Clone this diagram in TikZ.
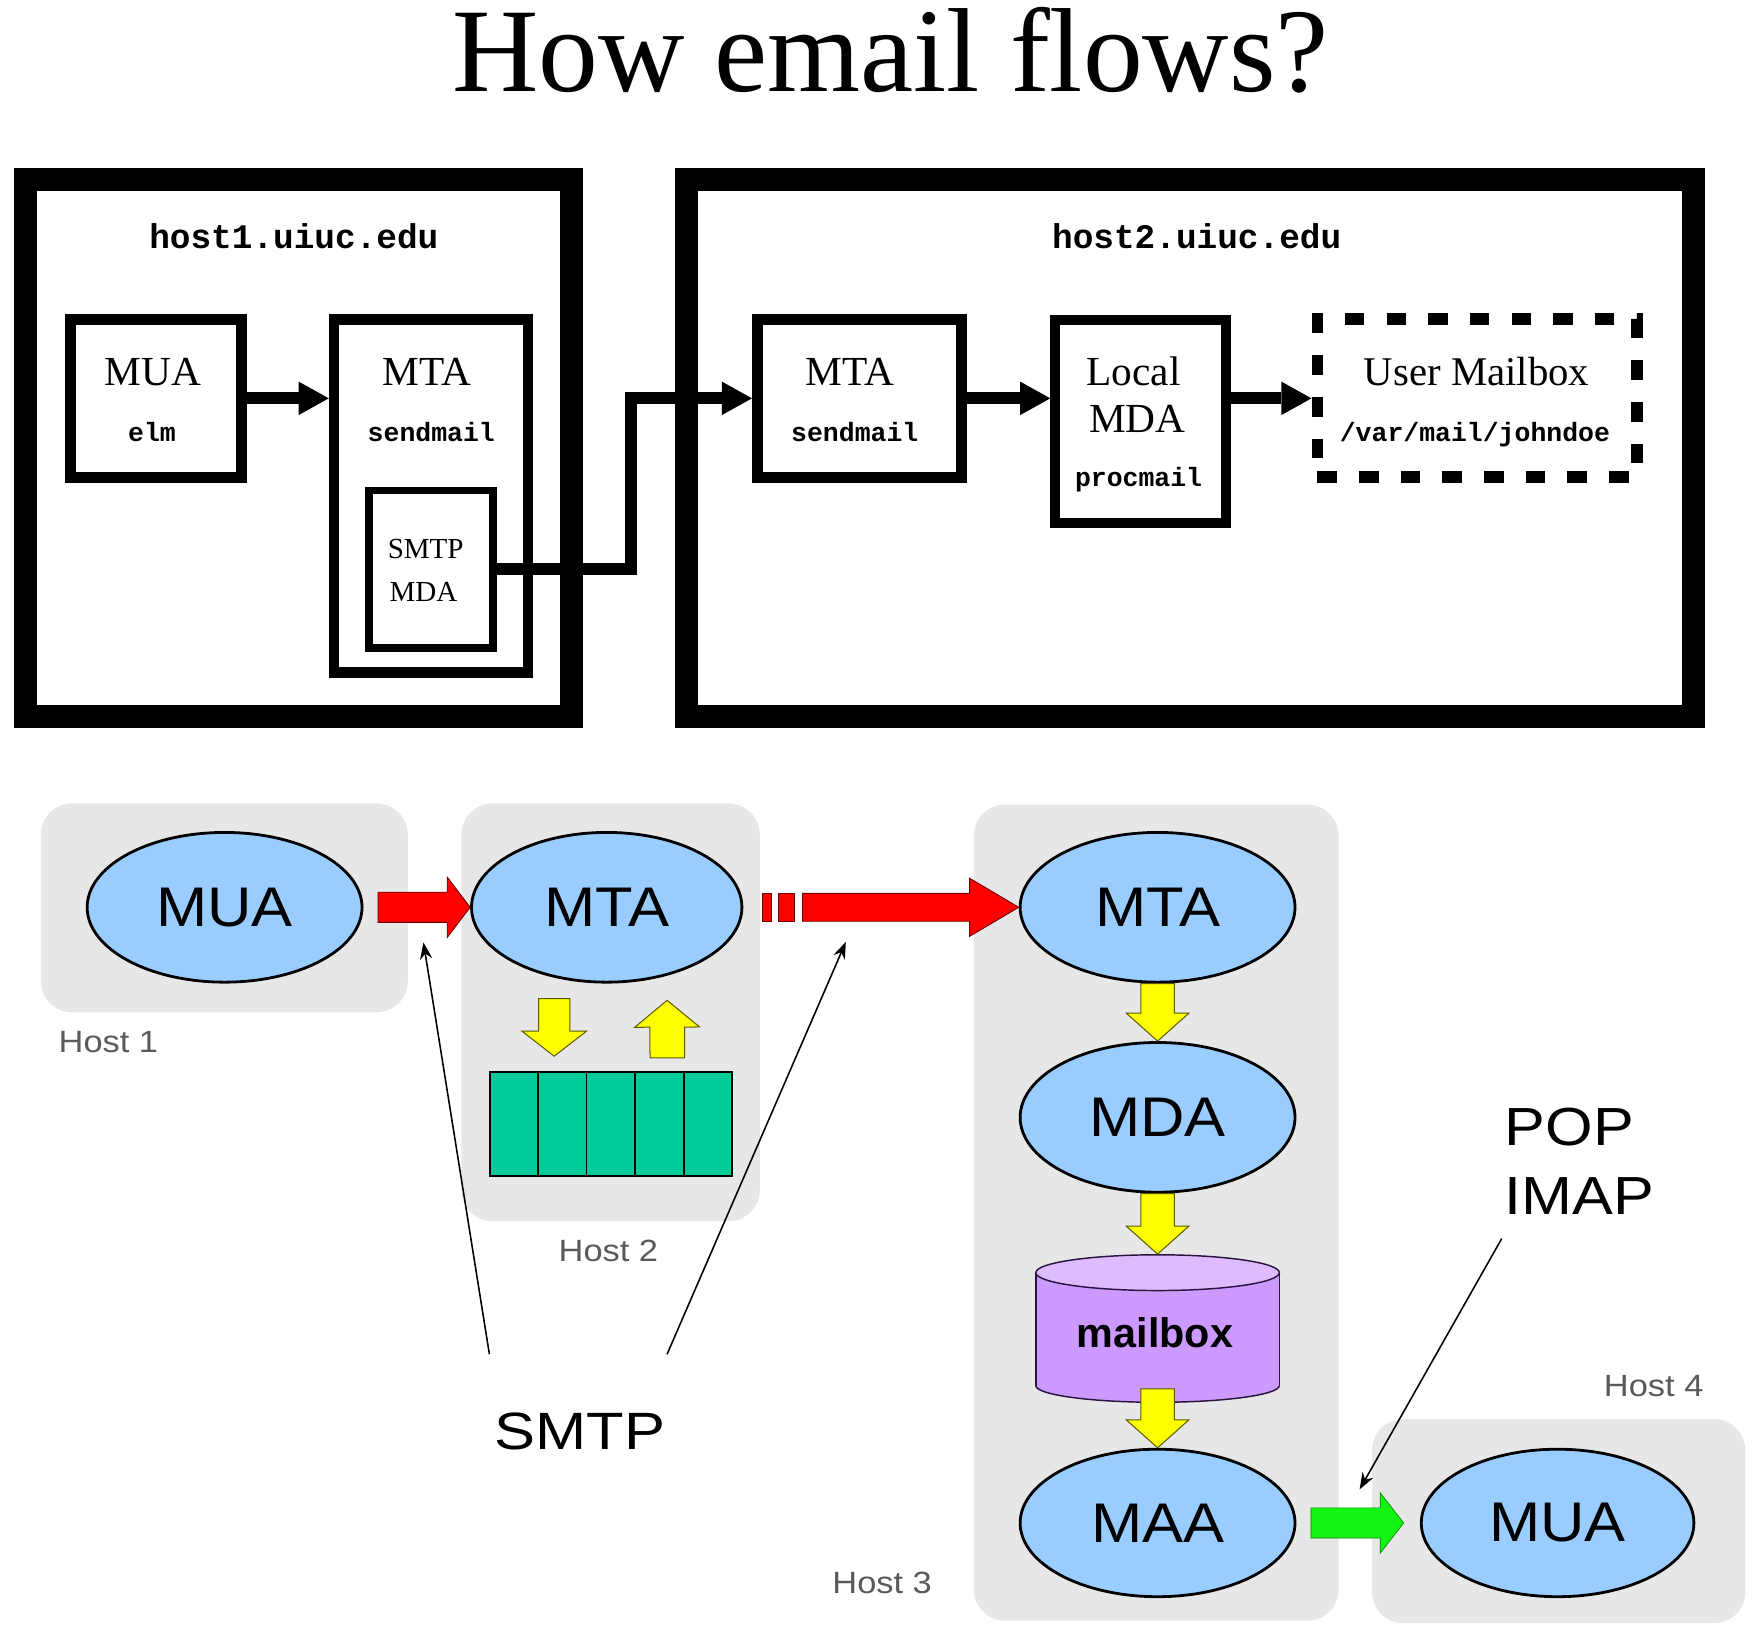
\documentclass[tikz,border=0pt]{standalone}
\usepackage{fontspec}
\setmainfont{Liberation Serif}
\setsansfont{Liberation Sans}
\setmonofont{Liberation Mono}
\usepackage{graphicx}
\usetikzlibrary{calc,arrows.meta,shapes.geometric}
\definecolor{ellblue}{RGB}{153,204,255}
\definecolor{hostgray}{RGB}{231,231,231}
\definecolor{qgreen}{RGB}{0,204,153}
\definecolor{mbody}{RGB}{204,153,255}
\definecolor{mtop}{RGB}{222,186,255}
\definecolor{labgray}{RGB}{90,90,90}
\definecolor{arrred}{RGB}{255,0,0}
\definecolor{arrgreen}{RGB}{20,245,20}
\definecolor{arryellow}{RGB}{255,255,0}
\definecolor{redline}{RGB}{110,0,0}
\definecolor{yelline}{RGB}{90,90,0}
\definecolor{grnline}{RGB}{0,140,0}
\definecolor{cylline}{RGB}{40,20,60}
\newcommand{\fs}[1]{\fontsize{#1}{#1}\selectfont}
\newcommand{\mystretch}[2]{\scalebox{#1}[1]{#2}}
% block arrow: style, start, tip, half shaft, half head, head length
\newcommand{\barrow}[6]{%
  \coordinate (ba-a) at (#2);
  \coordinate (ba-b) at (#3);
  \coordinate (ba-c) at ($(ba-b)!#6!(ba-a)$);
  \draw[#1] ($(ba-a)!#4!90:(ba-b)$) -- ($(ba-c)!#4!90:(ba-b)$) -- ($(ba-c)!#5!90:(ba-b)$) -- (ba-b) -- ($(ba-c)!#5!-90:(ba-b)$) -- ($(ba-c)!#4!-90:(ba-b)$) -- ($(ba-a)!#4!-90:(ba-b)$) -- cycle;
}
\tikzset{
  hostbox/.style={draw, line width=20.5pt, inner sep=0pt},
  cbox/.style={draw, line width=10pt, inner sep=0pt},
  conn/.style={line width=10.5pt, -{Triangle[length=27pt,width=30pt,line width=0pt]}},
  serif/.style={inner sep=0pt, anchor=base, font=\fs{37}},
  mono/.style={inner sep=0pt, anchor=base, font=\ttfamily\bfseries\fs{23.7}},
  hostarea/.style={fill=hostgray, rounded corners=28pt, inner sep=0pt},
  ell/.style={ellipse, draw, fill=ellblue, line width=2.5pt, inner sep=0pt, minimum width=246pt, minimum height=134pt, font=\sffamily\fs{50}},
  hostlbl/.style={inner sep=0pt, anchor=base, text=labgray, font=\sffamily\fs{27.5}},
  big/.style={inner sep=0pt, anchor=base, font=\sffamily\fs{47}},
  redarr/.style={fill=arrred, draw=redline, line width=0.8pt},
  yelarr/.style={fill=arryellow, draw=yelline, line width=0.9pt},
  grnarr/.style={fill=arrgreen, draw=grnline, line width=0.6pt},
  note/.style={line width=1.4pt, -{Stealth[length=15pt,width=11pt]}},
  cylpart/.style={draw=cylline, line width=1.3pt, inner sep=0pt},
}
\begin{document}
\begin{tikzpicture}[x=1pt,y=-1pt]
\useasboundingbox (0,0) rectangle (1568,1464);
\fill[white] (0,0) rectangle (1568,1464);

% title
\node[inner sep=0pt, anchor=base, font=\fs{107}] (title) at (797,82) {How email flows?};

% ---------- top diagram ----------
\node[hostbox, minimum width=489pt, minimum height=480.5pt] (host1) at (267,400.75) {};
\node[hostbox, minimum width=901pt, minimum height=480.5pt] (host2) at (1065,400.75) {};
\node[mono, font=\ttfamily\bfseries\fs{30.8}] (h1name) at (263,222.5) {host1.uiuc.edu};
\node[mono, font=\ttfamily\bfseries\fs{30.8}] (h2name) at (1071,222.5) {host2.uiuc.edu};

\node[cbox, minimum width=153pt, minimum height=141pt] (muabox) at (139.5,356.5) {};
\node[serif] (muat) at (137,344.6) {MUA};
\node[mono] (elmt) at (136,395) {elm};

\node[cbox, line width=9.5pt, minimum width=173.5pt, minimum height=316pt] (mta1box) at (385.75,444) {};
\node[serif] (mta1t) at (382,344.6) {MTA};
\node[mono] (sm1t) at (386,395) {sendmail};

\node[cbox, line width=7pt, minimum width=111pt, minimum height=141pt] (smtpbox) at (386,509.5) {};
\node[serif, font=\fs{26}] (smtpt) at (381,499.5) {SMTP};
\node[serif, font=\fs{26}] (mdat) at (379,538) {MDA};

\node[cbox, minimum width=182.5pt, minimum height=141pt] (mta2box) at (769.25,356.5) {};
\node[serif] (mta2t) at (760.5,344.6) {MTA};
\node[mono] (sm2t) at (765,395) {sendmail};

\node[cbox, line width=9pt, minimum width=153pt, minimum height=182pt] (lmdabox) at (1021,377) {};
\node[serif] (localt) at (1014.5,344.6) {Local};
\node[serif] (lmdat) at (1018,386.7) {MDA};
\node[mono] (procmt) at (1019,435.6) {procmail};

\node[draw, line width=10.5pt, dash pattern=on 17.5pt off 19.8pt, inner sep=0pt, minimum width=286pt, minimum height=141.5pt] (ubox) at (1322,356.25) {};
\node[serif, font=\fs{36.5}] (ubt) at (1321.5,344.6) {User Mailbox};
\node[mono] (patht) at (1320,395.3) {/var/mail/johndoe};

\draw[conn] (muabox.east) -- (muabox.east -| mta1box.west);
\coordinate (jog) at (565,509.5);
\draw[conn] (smtpbox.east) -- (jog) |- (mta2box.west);
\draw[conn] (mta2box.east) -- (mta2box.east -| lmdabox.west);
\draw[conn] (mta2box.east -| lmdabox.east) -- (mta2box.east -| ubox.west);

% ---------- bottom diagram ----------
\node[hostarea, minimum width=328.5pt, minimum height=187pt] (area1) at (200.75,812.5) {};
\node[hostarea, minimum width=267pt, minimum height=374pt] (area2) at (546.5,906) {};
\node[hostarea, minimum width=326.5pt, minimum height=730.5pt] (area3) at (1034.75,1085.25) {};
\node[hostarea, minimum width=334pt, minimum height=182.7pt] (area4) at (1395,1361.35) {};

\node[hostlbl] (h1l) at (97,941.6) {\mystretch{1.12}{Host 1}};
\node[hostlbl] (h2l) at (544.5,1128.6) {\mystretch{1.12}{Host 2}};
\node[hostlbl] (h3l) at (789.5,1426) {\mystretch{1.12}{Host 3}};
\node[hostlbl] (h4l) at (1480,1250) {\mystretch{1.12}{Host 4}};

% queue
\node[draw, line width=1.5pt, fill=qgreen, minimum width=216.5pt, minimum height=93pt, inner sep=0pt] (queue) at (546.75,1006) {};
\foreach \k in {1,...,4}
  \draw[line width=1.5pt] ($(queue.north west)!\k/5!(queue.north east)$) -- ($(queue.south west)!\k/5!(queue.south east)$);

% mailbox cylinder
\node[cylpart, ellipse, fill=mbody, minimum width=218pt, minimum height=30pt] (cylbot) at (1036,1240) {};
\node[fill=mbody, minimum width=218pt, minimum height=101pt, inner sep=0pt, outer sep=0pt] (cylbody) at (1036,1189.5) {};
\draw[draw=cylline, line width=1.3pt] (cylbody.north west) -- (cylbody.south west) (cylbody.north east) -- (cylbody.south east);
\node[cylpart, ellipse, fill=mtop, minimum width=218pt, minimum height=32pt] (cyltop) at (1036,1139) {};
\node[inner sep=0pt, anchor=base, font=\sffamily\bfseries\fs{37}] (mboxt) at (1033.6,1206) {mailbox};

% ellipses
\node[ell] (muaA) at (201,812) {\mystretch{1.1}{MUA}};
\node[ell, minimum width=242pt] (mtaB) at (543,812) {\mystretch{1.1}{MTA}};
\node[ell] (mtaC) at (1036,812) {\mystretch{1.1}{MTA}};
\node[ell] (mdaC) at (1036,1000) {\mystretch{1.1}{MDA}};
\node[ell, minimum height=132pt] (maaC) at (1036,1363) {\mystretch{1.1}{MAA}};
\node[ell, minimum width=244pt, minimum height=132pt] (muaD) at (1394,1363) {\mystretch{1.1}{MUA}};

% block arrows
\barrow{redarr}{$(muaA.east)+(13,0)$}{mtaB.west}{13.5pt}{27pt}{20.5pt}
\draw[redarr] ($(mtaB.east)+(17,-12.5)$) rectangle ($(mtaB.east)+(25,12.5)$);
\draw[redarr] ($(mtaB.east)+(31,-12.5)$) rectangle ($(mtaB.east)+(46,12.5)$);
\barrow{redarr}{$(mtaB.east)+(53,0)$}{mtaC.west}{12.5pt}{26pt}{44pt}
\barrow{yelarr}{$(mtaB.south)+(-47,13.5)$}{$(queue.north)+(-50.75,-13.5)$}{14pt}{29pt}{22.5pt}
\barrow{yelarr}{$(queue.north)+(50.5,-12)$}{$(mtaB.south)+(54,15)$}{15.5pt}{29pt}{24pt}
\barrow{yelarr}{mtaC.south}{mdaC.north}{15pt}{28pt}{25pt}
\barrow{yelarr}{mdaC.south}{cyltop.north}{15pt}{28pt}{25pt}
\barrow{yelarr}{$(cylbot.center)+(0,3)$}{maaC.north}{15pt}{28pt}{25pt}
\barrow{grnarr}{$(maaC.east)+(13,0)$}{$(muaD.west)+(-14.5,0)$}{13.5pt}{27pt}{21pt}

% protocol labels and pointers
\node[big] (smtpl) at (519,1297.5) {\mystretch{1.17}{SMTP}};
\node[big, anchor=base west, font=\sffamily\fs{48}] (popl) at (1346.5,1025.4) {\mystretch{1.14}{POP}};
\node[big, anchor=base west, font=\sffamily\fs{48}] (imapl) at (1346.5,1086.5) {\mystretch{1.14}{IMAP}};

\coordinate (s1) at (438,1212);
\coordinate (s1t) at (379,843.5);
\coordinate (s2) at (597,1212);
\coordinate (s2t) at (757,843);
\coordinate (p1) at (1344,1108.5);
\coordinate (p1t) at (1216.8,1333);
\draw[note] (s1) -- (s1t);
\draw[note] (s2) -- (s2t);
\draw[note] (p1) -- (p1t);
\end{tikzpicture}
\end{document}
